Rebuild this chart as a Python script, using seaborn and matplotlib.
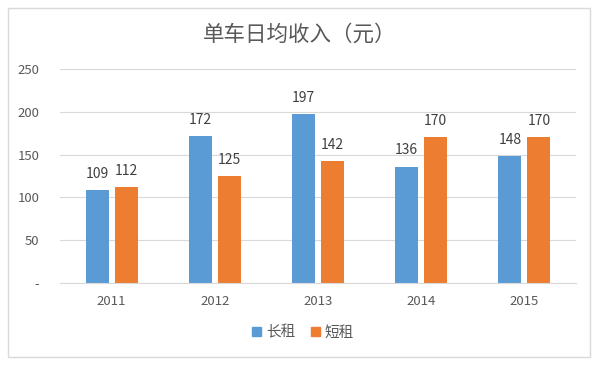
import matplotlib
matplotlib.use("Agg")
import matplotlib.pyplot as plt
import matplotlib.patches as mpatches
import seaborn as sns
import pandas as pd

years = ["2011", "2012", "2013", "2014", "2015"]
long_rent = [109, 172, 197, 136, 148]
short_rent = [112, 125, 142, 170, 170]
series_names = ["长租", "短租"]
title = "单车日均收入（元）"
yticks = [0, 50, 100, 150, 200, 250]
ytick_labels = ["-", "50", "100", "150", "200", "250"]

colors = ["#5B9BD5", "#ED7D31"]

df = pd.DataFrame({
    "year": years * 2,
    "value": long_rent + short_rent,
    "type": [series_names[0]] * len(years) + [series_names[1]] * len(years),
})

sns.set_theme(style="white")
plt.rcParams['font.family'] = ['Noto Sans CJK SC', 'DejaVu Sans']

fig = plt.figure(figsize=(6.0, 3.65), dpi=100)
ax = fig.add_axes([0.1, 0.225, 0.86, 0.586])

sns.barplot(data=df, x="year", y="value", hue="type", palette=colors,
            width=0.563, gap=0.207, ax=ax, legend=False, saturation=1,
            linewidth=0, edgecolor="none")

ax.set_ylim(0, 250)
ax.set_xlim(-0.5, len(years) - 0.5)
ax.set_yticks(yticks)
ax.set_yticklabels(ytick_labels)
ax.yaxis.grid(True, color="#d9d9d9", linewidth=0.8)
ax.set_axisbelow(True)
for s in ["top", "right", "left"]:
    ax.spines[s].set_visible(False)
ax.spines["bottom"].set_color("#d9d9d9")
ax.spines["bottom"].set_linewidth(0.8)
ax.tick_params(axis="both", length=0, labelsize=9.5, labelcolor="#595959")
ax.tick_params(axis="x", pad=9)
ax.tick_params(axis="y", pad=15)
ax.set_xlabel("")
ax.set_ylabel("")

for cont in ax.containers:
    ax.bar_label(cont, padding=6.5, fontsize=10, color="#404040")

fig.suptitle(title, x=0.5, y=0.935, fontsize=15.5, color="#595959", fontweight="light")

handles = [mpatches.Patch(color=c, label=n) for c, n in zip(colors, series_names)]
fig.legend(handles=handles, loc="center", bbox_to_anchor=(0.505, 0.088), ncol=2,
           frameon=False, fontsize=10.5, labelcolor="#595959",
           handlelength=0.6, handleheight=0.6, handletextpad=0.35, columnspacing=1.1)

border = mpatches.Rectangle((8 / 600, 1 - 357 / 365), (590 - 8) / 600, (357 - 8) / 365,
                            transform=fig.transFigure, fill=False,
                            edgecolor="#d9d9d9", linewidth=1.0)
fig.add_artist(border)

fig.savefig("out.png", dpi=100)
